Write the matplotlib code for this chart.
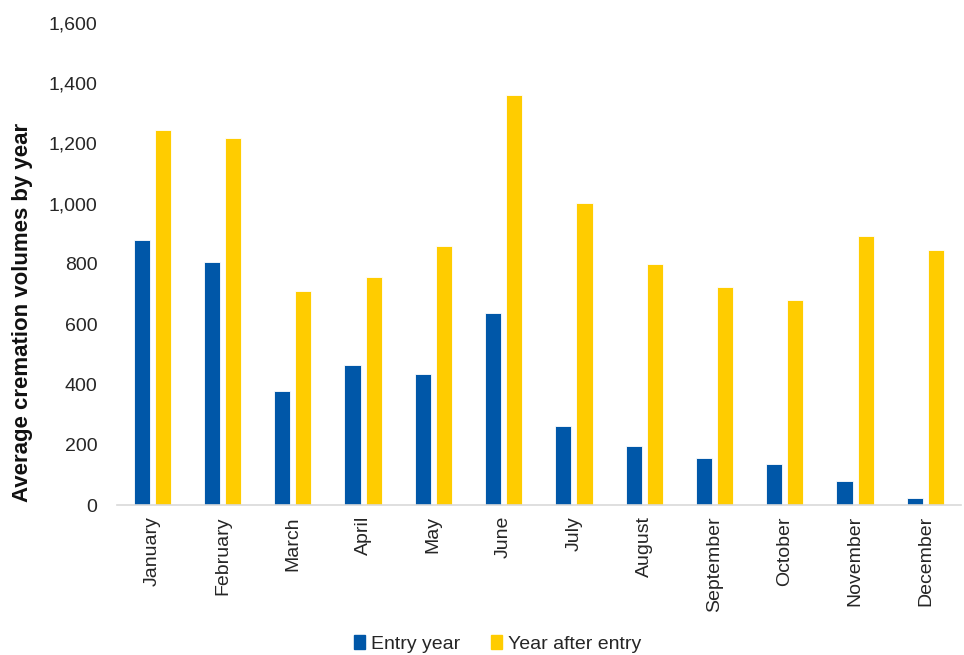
import matplotlib
matplotlib.use("Agg")
import matplotlib.pyplot as plt
import numpy as np
from matplotlib.ticker import FuncFormatter
from matplotlib.patches import Patch

plt.rcParams['font.family'] = ['Liberation Sans', 'DejaVu Sans']

months = ["January", "February", "March", "April", "May", "June", "July",
          "August", "September", "October", "November", "December"]
entry_year = [880, 805, 378, 463, 433, 636, 261, 195, 157, 136, 81, 22]
year_after_entry = [1245, 1217, 709, 757, 860, 1361, 1002, 801, 723, 681, 894, 847]
series_names = ["Entry year", "Year after entry"]

blue = "#0057A8"
gold = "#FFCC00"
text_col = "#262626"

fig = plt.figure(figsize=(9.64, 6.55), dpi=100)
ax = fig.add_axes([0.1214, 0.229, 0.875, 0.7363])

x = np.arange(len(months))
w = 0.23
off = 0.15
ax.bar(x - off, entry_year, width=w, color=blue, edgecolor="white", linewidth=0.6)
ax.bar(x + off, year_after_entry, width=w, color=gold, edgecolor="white", linewidth=0.6)

ax.set_xlim(-0.5, len(months) - 0.5)
ax.set_ylim(0, 1600)
ax.set_yticks(np.arange(0, 1601, 200))
ax.yaxis.set_major_formatter(FuncFormatter(lambda v, p: f"{int(v):,}"))
ax.set_xticks(x)
ax.set_xticklabels(months, rotation=90, fontsize=14, color=text_col)
ax.tick_params(axis="y", labelsize=14, length=0, pad=14, labelcolor=text_col)
ax.tick_params(axis="x", length=0, pad=8)

for s in ["top", "right", "left"]:
    ax.spines[s].set_visible(False)
ax.spines["bottom"].set_color("#D9D9D9")
ax.spines["bottom"].set_linewidth(1.2)

ax.set_ylabel("Average cremation volumes by year", fontsize=16, fontweight="bold", color="#111111")
ax.yaxis.set_label_coords(-0.1, 0.40)

handles = [Patch(color=blue), Patch(color=gold)]
fig.legend(handles, series_names, loc="center", bbox_to_anchor=(0.516, 0.017),
           ncol=2, frameon=False, fontsize=14, handlelength=0.55, handleheight=0.7,
           handletextpad=0.3, columnspacing=1.6, labelcolor=text_col)

fig.savefig("out.png", dpi=100)
